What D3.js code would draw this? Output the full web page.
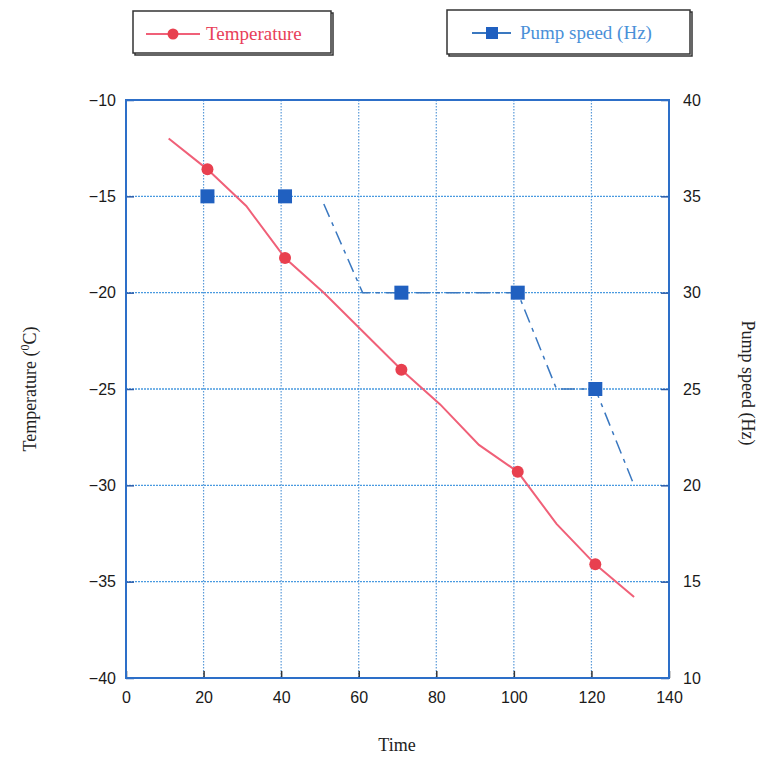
<!DOCTYPE html>
<html><head><meta charset="utf-8">
<script src="https://cdn.jsdelivr.net/npm/d3@7"></script>
<style>body{margin:0;background:#fff}svg{display:block}</style>
</head><body>
<svg id="c" width="761" height="759"></svg>
<script>
// Data
const tempLineX = [11, 21, 31, 41, 51, 61, 71, 81, 91, 101, 111, 121, 131];
const tempLineY = [-12, -13.6, -15.5, -18.2, -20, -22, -24, -25.8, -27.9, -29.3, -32, -34.1, -35.8];
const tempMarkX = [21, 41, 71, 101, 121];
const tempMarkY = [-13.6, -18.2, -24, -29.3, -34.1];
const pumpLineX = [51, 61, 71, 81, 91, 101, 111, 121, 131];
const pumpLineY = [34.6, 30, 30, 30, 30, 30, 25, 25, 20];
const pumpMarkX = [21, 41, 71, 101, 121];
const pumpMarkY = [35, 35, 30, 30, 25];
const xTicks = [0, 20, 40, 60, 80, 100, 120, 140];
const yLeftTicks = [-10, -15, -20, -25, -30, -35, -40];
const yRightTicks = [40, 35, 30, 25, 20, 15, 10];

const svg = d3.select("#c");
const L = 126, R = 669, T = 100, B = 678;
const x = d3.scaleLinear().domain([0, 140]).range([L, R]);
const yL = d3.scaleLinear().domain([-40, -10]).range([B, T]);
const yR = d3.scaleLinear().domain([10, 40]).range([B, T]);

// gridlines
const g = svg.append("g");
g.selectAll(".vg").data(xTicks.slice(1, -1)).enter().append("line")
  .attr("x1", d => x(d)).attr("x2", d => x(d)).attr("y1", T).attr("y2", B)
  .attr("stroke", "#5a9ad8").attr("stroke-width", 1.2).attr("stroke-dasharray", "1.5,1.5");
g.selectAll(".hg").data(yLeftTicks.slice(1, -1)).enter().append("line")
  .attr("x1", L).attr("x2", R).attr("y1", d => yL(d)).attr("y2", d => yL(d))
  .attr("stroke", "#4a9ae0").attr("stroke-width", 1.4).attr("stroke-dasharray", "2,1");

// axes
const fontTick = "'Liberation Sans', Arial, sans-serif";
const ax = d3.axisBottom(x).tickValues(xTicks).tickSize(-7).tickPadding(14).tickFormat(d3.format("d"));
const gx = svg.append("g").attr("transform", `translate(0,${B})`).call(ax);
const ayl = d3.axisLeft(yL).tickValues(yLeftTicks).tickSize(-8).tickPadding(10).tickFormat(d3.format("d"));
const gyl = svg.append("g").attr("transform", `translate(${L},0)`).call(ayl);
const ayr = d3.axisRight(yR).tickValues(yRightTicks).tickSize(-8).tickPadding(14).tickFormat(d3.format("d"));
const gyr = svg.append("g").attr("transform", `translate(${R},0)`).call(ayr);
[gx, gyl, gyr].forEach(a => {
  a.select(".domain").remove();
  a.selectAll(".tick line").attr("stroke", "#2a5aa8").attr("stroke-width", 1.5);
  a.selectAll(".tick text").attr("font-family", fontTick).attr("font-size", 16).attr("fill", "#1a1a1a");
});
gx.selectAll(".tick line").attr("stroke", "#333");

// border
svg.append("rect").attr("x", L).attr("y", T).attr("width", R - L).attr("height", B - T)
  .attr("fill", "none").attr("stroke", "#2d6fc8").attr("stroke-width", 2);

// pump line
const pumpPts = pumpLineX.map((v, i) => [v, pumpLineY[i]]);
svg.append("path").datum(pumpPts)
  .attr("d", d3.line().x(d => x(d[0])).y(d => yR(d[1])))
  .attr("fill", "none").attr("stroke", "#3a78c0").attr("stroke-width", 1.5)
  .attr("stroke-dasharray", "14,6,4,6");
// temp line
const tempPts = tempLineX.map((v, i) => [v, tempLineY[i]]);
svg.append("path").datum(tempPts)
  .attr("d", d3.line().x(d => x(d[0])).y(d => yL(d[1])))
  .attr("fill", "none").attr("stroke", "#f06078").attr("stroke-width", 2);

// markers
svg.selectAll(".pm").data(pumpMarkX.map((v, i) => [v, pumpMarkY[i]])).enter().append("rect")
  .attr("x", d => x(d[0]) - 7).attr("y", d => yR(d[1]) - 7).attr("width", 14).attr("height", 14)
  .attr("fill", "#2060c0");
svg.selectAll(".tm").data(tempMarkX.map((v, i) => [v, tempMarkY[i]])).enter().append("circle")
  .attr("cx", d => x(d[0])).attr("cy", d => yL(d[1])).attr("r", 6)
  .attr("fill", "#e8404f");

// axis titles
const fontTitle = "'Liberation Serif', 'Times New Roman', serif";
svg.append("text").attr("x", 397).attr("y", 751).attr("text-anchor", "middle")
  .attr("font-family", fontTitle).attr("font-size", 18).attr("fill", "#222").text("Time");
const lt = svg.append("text").attr("transform", "translate(36,389) rotate(-90)").attr("text-anchor", "middle")
  .attr("font-family", fontTitle).attr("font-size", 18).attr("fill", "#222");
lt.append("tspan").text("Temperature (");
lt.append("tspan").attr("font-size", 12).attr("dy", -7).text("0");
lt.append("tspan").attr("dy", 7).text("C)");
svg.append("text").attr("transform", "translate(742,383) rotate(90)").attr("text-anchor", "middle")
  .attr("font-family", fontTitle).attr("font-size", 18).attr("fill", "#222").text("Pump speed (Hz)");

// legends
function legendBox(x0, y0, w, h) {
  svg.append("rect").attr("x", x0 + 2).attr("y", y0 + 2).attr("width", w).attr("height", h)
    .attr("fill", "none").attr("stroke", "#333").attr("stroke-width", 1.5);
  svg.append("rect").attr("x", x0).attr("y", y0).attr("width", w).attr("height", h)
    .attr("fill", "#fff").attr("stroke", "#333").attr("stroke-width", 1.5);
}
legendBox(133, 11, 198, 42);
svg.append("line").attr("x1", 146).attr("x2", 200).attr("y1", 34).attr("y2", 34).attr("stroke", "#f06078").attr("stroke-width", 1.8);
svg.append("circle").attr("cx", 173).attr("cy", 34).attr("r", 5.5).attr("fill", "#e8404f");
svg.append("text").attr("x", 206).attr("y", 40).attr("font-family", fontTitle).attr("font-size", 19)
  .attr("fill", "#e84058").text("Temperature");
legendBox(447, 10, 243, 44);
svg.append("line").attr("x1", 472).attr("x2", 511).attr("y1", 33).attr("y2", 33).attr("stroke", "#3a78c0").attr("stroke-width", 1.8);
svg.append("rect").attr("x", 486).attr("y", 27).attr("width", 12).attr("height", 12).attr("fill", "#2060c0");
svg.append("text").attr("x", 520).attr("y", 39).attr("font-family", fontTitle).attr("font-size", 19)
  .attr("fill", "#4a90d8").text("Pump speed (Hz)");
</script>
</body></html>
